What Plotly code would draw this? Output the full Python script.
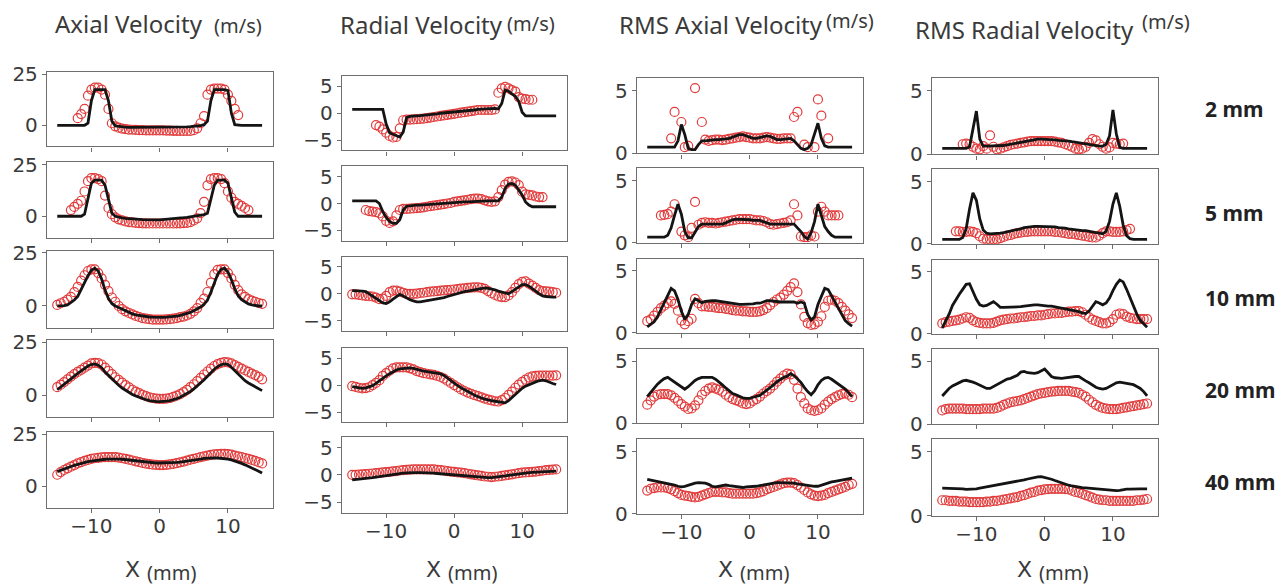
import plotly.graph_objects as go

# ---------------- data ----------------
X_MM = [-15, -14.5, -14, -13.5, -13, -12.5, -12, -11.5, -11, -10.5,
        -10, -9.5, -9, -8.5, -8, -7.5, -7, -6.5, -6, -5.5,
        -5, -4.5, -4, -3.5, -3, -2.5, -2, -1.5, -1, -0.5,
        0, 0.5, 1, 1.5, 2, 2.5, 3, 3.5, 4, 4.5,
        5, 5.5, 6, 6.5, 7, 7.5, 8, 8.5, 9, 9.5,
        10, 10.5, 11, 11.5, 12, 12.5, 13, 13.5, 14, 14.5, 15]

COLUMN_TITLES = ["Axial Velocity", "Radial Velocity", "RMS Axial Velocity", "RMS Radial Velocity"]
UNIT_LABEL = "(m/s)"
ROW_LABELS = ["2 mm", "5 mm", "10 mm", "20 mm", "40 mm"]
X_TICKS = [-10, 0, 10]
X_TICK_TEXT = ["\u221210", "0", "10"]
Y_TICKS = [[0, 25], [-5, 0, 5], [0, 5], [0, 5]]
Y_TICK_TEXT = [["0", "25"], ["\u22125", "0", "5"], ["0", "5"], ["0", "5"]]
N = None

# Axial velocity
axial_2mm_sim = [0, 0, 0, 0, 0, 0, 0, 0, 0, 1,
                 12, 17.5, 17.5, 17.5, 17.5, 12, 2, -0.3, -0.6, -0.8,
                 -0.9, -1, -1, -1.1, -1.1, -1.1, -1.1, -1.1, -1.1, -1.1,
                 -1.1, -1.1, -1.1, -1.1, -1, -1, -1, -0.9, -0.8, -0.7,
                 -0.6, -0.4, -0.2, 0.3, 2, 12, 17.5, 17.5, 17.5, 17.5,
                 17, 6, 0.3, 0, 0, 0, 0, 0, 0, 0, 0]
axial_2mm_exp = [N, N, N, N, N, N, 3.5, 5.5, 8, 14.5,
                 17.5, 18.5, 18.5, 17.5, 15, 8, 1, -0.5, -1.2, -1.6,
                 -1.9, -2.1, -2.2, -2.3, -2.4, -2.4, -2.5, -2.5, -2.5, -2.5,
                 -2.5, -2.5, -2.6, -2.6, -2.7, -2.7, -2.8, -2.8, -2.8, -2.8,
                 -2.4, -1.5, 1, 4.5, 15, 17.5, 18, 18, 18, 17.5,
                 15, 12, 8, 5, N, N, N, N, N, N, N]
axial_5mm_sim = [0, 0, 0, 0, 0, 0, 0, 0, 1, 8,
                 16, 17.5, 17.5, 17.5, 15, 8, 1.5, 0, -0.5, -0.8,
                 -1, -1.2, -1.3, -1.4, -1.5, -1.6, -1.7, -1.7, -1.7, -1.7,
                 -1.7, -1.6, -1.5, -1.4, -1.3, -1.1, -0.9, -0.7, -0.5, -0.3,
                 -0.1, 0.2, 0.5, 0.8, 1.5, 8, 15, 17.5, 17.5, 17.5,
                 16, 9, 2, 0, 0, 0, 0, 0, 0, 0, 0]
axial_5mm_exp = [N, N, N, N, 3, 4.5, 6, 7.5, 12, 17,
                 18.5, 18.5, 18, 17, 10, 4, 1, -0.5, -1.5, -2,
                 -2.5, -2.8, -3, -3.2, -3.3, -3.4, -3.4, -3.5, -3.5, -3.5,
                 -3.5, -3.5, -3.5, -3.5, -3.5, -3.4, -3.4, -3.3, -3.2, -2.8,
                 -2, -1, 1.5, 7, 15, 18, 18.5, 18.5, 18, 16,
                 12, 9, 7, 6, 5, 4, 3, N, N, N, N]
axial_10mm_sim = [0, 0, 0.2, 0.5, 1.5, 2.8, 4.5, 8, 11, 14.3,
                  16.8, 17.8, 16.5, 12.7, 7.5, 3.5, 1.2, 0, -0.7, -1.5,
                  -2.3, -3, -3.7, -4.2, -4.5, -4.8, -5, -5.2, -5.3, -5.4,
                  -5.4, -5.4, -5.3, -5.2, -5, -4.8, -4.4, -4, -3.6, -3,
                  -2.2, -1.4, -0.5, 0.8, 2.8, 6.5, 11.2, 15, 17.2, 17.8,
                  16, 12.5, 8.1, 4.8, 3, 1.8, 1, 0.5, 0.2, 0, 0]
axial_10mm_exp = [0.5, 1.3, 2, 3, 4.3, 6.5, 9, 12, 14.5, 16.5,
                  17.3, 17.3, 15.5, 13, 10, 7, 4, 2, 0, -1.5,
                  -2.5, -3.3, -4, -4.7, -5.2, -5.7, -6, -6.2, -6.4, -6.4,
                  -6.4, -6.4, -6.3, -6.2, -6, -5.7, -5.3, -5, -4.5, -3.7,
                  -2.5, -1, 1.5, 3.5, 6.6, 11, 15, 17, 17.3, 17.3,
                  15.5, 13, 10, 7.5, 5.5, 4.3, 3.2, 2.5, 2, 1.4, 1]
axial_20mm_sim = [2.6, 3.8, 5, 6.3, 7.7, 9, 10.3, 11.6, 12.8, 13.8,
                  14.5, 14.8, 14.2, 13, 11, 9.3, 7.8, 6.2, 4.7, 3.4,
                  2.3, 1.3, 0.4, -0.3, -1, -1.6, -2.1, -2.5, -2.8, -3,
                  -3, -3, -2.8, -2.5, -2.1, -1.6, -0.9, -0.1, 0.8, 1.8,
                  3, 4.3, 5.8, 7.3, 9, 10.8, 12.3, 13.5, 14.4, 14.8,
                  14.5, 13.2, 11.5, 9.8, 8.2, 6.9, 5.8, 4.8, 3.9, 3, 2.2]
axial_20mm_exp = [3.8, 5, 6.2, 7.5, 8.8, 10, 11, 12, 13, 14,
                  15, 15.3, 15.2, 14.5, 13, 11.5, 10, 8.5, 7.3, 6,
                  4.8, 3.7, 2.6, 1.7, 1, 0.2, -0.4, -1, -1.3, -1.6,
                  -1.7, -1.7, -1.6, -1.3, -0.8, -0.2, 0.5, 1.5, 2.5, 3.8,
                  5.2, 6.7, 8.2, 9.8, 11.2, 12.6, 13.8, 14.7, 15.3, 15.6,
                  15.5, 15, 14.2, 13.4, 12.6, 11.8, 11, 10.2, 9.5, 8.7, 7.5]
axial_40mm_sim = [7, 7.7, 8.3, 8.9, 9.5, 10, 10.5, 11, 11.4, 11.8,
                  12.1, 12.4, 12.6, 12.8, 13, 13.1, 13.2, 13.2, 13.1, 13,
                  12.8, 12.6, 12.4, 12.2, 12, 11.8, 11.6, 11.4, 11.3, 11.2,
                  11.2, 11.2, 11.2, 11.3, 11.4, 11.5, 11.6, 11.8, 12, 12.2,
                  12.5, 12.8, 13.1, 13.4, 13.6, 13.7, 13.7, 13.6, 13.5, 13.3,
                  13.1, 12.7, 12.2, 11.6, 11, 10.3, 9.6, 8.8, 8, 7.2, 6.3]
axial_40mm_exp = [5.5, 6.8, 7.8, 8.6, 9.4, 10.2, 11, 11.6, 12.2, 12.7,
                  13.2, 13.5, 13.7, 13.9, 14, 14, 14, 14, 13.8, 13.5,
                  13.2, 12.8, 12.4, 12, 11.6, 11.2, 10.9, 10.6, 10.4, 10.3,
                  10.2, 10.2, 10.3, 10.5, 10.8, 11.1, 11.5, 11.9, 12.3, 12.8,
                  13.2, 13.6, 14, 14.4, 14.8, 15.1, 15.4, 15.5, 15.6, 15.6,
                  15.5, 15.2, 14.8, 14.4, 14, 13.6, 13.2, 12.7, 12.2, 11.6, 11]

# Radial velocity
radial_2mm_sim = [0.7, 0.7, 0.7, 0.7, 0.7, 0.7, 0.7, 0.7, 0.7, 0.7,
                  -2, -3.6, -3.9, -4.1, -4.4, -3.5, -0.8, -0.6, -0.5, -0.5,
                  -0.45, -0.4, -0.35, -0.3, -0.2, -0.1, 0, 0.05, 0.1, 0.2,
                  0.25, 0.3, 0.35, 0.4, 0.5, 0.55, 0.6, 0.7, 0.75, 0.8,
                  0.85, 0.9, 0.9, 0.8, 1.8, 4.3, 4.1, 3.6, 3.1, 2.2,
                  0.2, -0.5, -0.5, -0.5, -0.5, -0.5, -0.5, -0.5, -0.5, -0.5, -0.5]
radial_2mm_exp = [N, N, N, N, N, N, N, -2.2, -2.5, -3,
                  -3.6, -4.2, -4.5, -4.4, -2.8, -1.3, -1.2, -1.2, -1.15, -1.1,
                  -1.05, -1, -0.9, -0.8, -0.7, -0.6, -0.5, -0.4, -0.3, -0.2,
                  -0.1, 0, 0.1, 0.2, 0.3, 0.4, 0.5, 0.6, 0.6, 0.6,
                  0.6, 0.6, 0.7, 3.8, 4.6, 4.9, 4.6, 4.3, 4, 3,
                  2.7, 2.6, 2.5, 2.5, N, N, N, N, N, N, N]
radial_5mm_sim = [0.5, 0.5, 0.5, 0.5, 0.5, 0.5, 0.5, 0.5, 0, -1.5,
                  -2.6, -3.3, -3.7, -3.7, -3, -1.2, -0.5, -0.4, -0.35, -0.3,
                  -0.3, -0.25, -0.2, -0.15, -0.1, 0, 0, 0.05, 0.1, 0.15,
                  0.2, 0.2, 0.25, 0.3, 0.3, 0.35, 0.4, 0.4, 0.45, 0.5,
                  0.5, 0.5, 0.5, 0.5, 1.2, 2.8, 3.6, 3.7, 3.4, 2.6,
                  1.6, 0.3, -0.3, -0.6, -0.6, -0.6, -0.6, -0.6, -0.6, -0.6, -0.6]
radial_5mm_exp = [N, N, N, N, -1.2, -1.4, -1.5, -1.6, -1.8, -2.4,
                  -3.2, -3.6, -3.3, -2.2, -1.2, -1, -1, -0.95, -0.9, -0.85,
                  -0.8, -0.7, -0.6, -0.5, -0.4, -0.3, -0.2, -0.1, 0, 0.1,
                  0.3, 0.4, 0.5, 0.6, 0.7, 0.8, 0.9, 0.9, 0.8, 0.6,
                  0.4, 0.3, 0.4, 1.2, 2.5, 3.5, 4, 4.1, 3.9, 3.4,
                  2.2, 1.7, 1.6, 1.5, 1.3, 1.2, 1.2, N, N, N, N]
radial_10mm_sim = [0.6, 0.6, 0.6, 0.5, 0.4, 0, -0.4, -0.8, -1.3, -1.7,
                   -1.8, -1.5, -1, -0.5, -0.1, -0.4, -0.8, -1.1, -1.3, -1.5,
                   -1.5, -1.4, -1.3, -1.2, -1.1, -1, -0.85, -0.7, -0.5, -0.3,
                   -0.1, 0.1, 0.25, 0.4, 0.5, 0.6, 0.75, 0.9, 1, 1.1,
                   1, 0.9, 0.75, 0.5, 0.3, 0.1, 0, 0.4, 0.9, 1.3,
                   1.7, 1.7, 1.4, 1, 0.5, 0, -0.4, -0.5, -0.6, -0.6, -0.6]
radial_10mm_exp = [-0.1, -0.1, -0.2, -0.3, -0.4, -0.45, -0.5, -0.7, -1, -0.9,
                   -0.4, 0.3, 0.6, 0.6, 0.4, 0.2, 0, 0, 0, 0.05,
                   0.15, 0.2, 0.3, 0.4, 0.45, 0.5, 0.6, 0.65, 0.7, 0.75,
                   0.8, 0.85, 0.95, 1, 1.1, 1.15, 1.2, 1.2, 1.1, 0.9,
                   0.5, 0.1, -0.2, -0.5, -0.6, -0.6, -0.3, 0.3, 1.1, 1.8,
                   2.2, 2.3, 1.9, 1.5, 1.1, 0.7, 0.5, 0.45, 0.4, 0.3, 0.2]
radial_20mm_sim = [-0.3, -0.4, -0.6, -0.6, -0.5, -0.3, -0.1, 0.3, 0.8, 1.2,
                   1.7, 2.1, 2.5, 2.8, 3, 3.1, 3.2, 3.2, 3.1, 2.9,
                   2.7, 2.6, 2.5, 2.4, 2.3, 2.2, 2.1, 1.8, 1.3, 0.8,
                   0.3, -0.1, -0.5, -0.8, -1.2, -1.5, -1.9, -2.2, -2.4, -2.6,
                   -2.8, -2.9, -3, -3.1, -3.2, -3.3, -2.9, -2.3, -1.8, -1.2,
                   -0.6, -0.2, 0.1, 0.4, 0.6, 0.8, 0.9, 0.8, 0.5, 0.3, 0.1]
radial_20mm_exp = [-0.2, -0.35, -0.5, -0.6, -0.55, -0.4, 0, 0.4, 0.9, 1.7,
                   2.2, 2.7, 3.1, 3.3, 3.3, 3.3, 3.3, 3.1, 2.9, 2.6,
                   2.4, 2.2, 2.1, 2, 1.9, 1.7, 1.5, 1.2, 0.8, 0.4,
                   0, -0.4, -0.8, -1.1, -1.4, -1.65, -1.85, -2.05, -2.3, -2.5,
                   -2.7, -2.85, -3, -3.05, -2.8, -2.4, -1.8, -1.2, -0.5, 0.1,
                   0.6, 1, 1.4, 1.6, 1.7, 1.75, 1.75, 1.75, 1.75, 1.75, 1.8]
radial_40mm_sim = [-0.9, -0.85, -0.8, -0.75, -0.7, -0.6, -0.5, -0.4, -0.3, -0.2,
                   -0.1, 0, 0.1, 0.2, 0.25, 0.3, 0.35, 0.4, 0.4, 0.4,
                   0.4, 0.4, 0.4, 0.35, 0.3, 0.25, 0.2, 0.15, 0.1, 0,
                   -0.05, -0.1, -0.15, -0.2, -0.3, -0.35, -0.4, -0.45, -0.5, -0.5,
                   -0.5, -0.5, -0.45, -0.4, -0.3, -0.2, -0.1, 0, 0.1, 0.2,
                   0.3, 0.35, 0.4, 0.45, 0.5, 0.55, 0.6, 0.6, 0.65, 0.7, 0.7]
radial_40mm_exp = [0, 0, 0.05, 0.1, 0.15, 0.2, 0.25, 0.3, 0.35, 0.45,
                   0.5, 0.55, 0.65, 0.7, 0.8, 0.85, 0.9, 0.95, 1, 1,
                   1, 1, 1, 1, 1, 0.9, 0.85, 0.8, 0.7, 0.6,
                   0.55, 0.45, 0.4, 0.3, 0.2, 0.1, 0, -0.1, -0.2, -0.3,
                   -0.35, -0.4, -0.35, -0.3, -0.2, -0.1, 0, 0.1, 0.2, 0.3,
                   0.4, 0.45, 0.5, 0.55, 0.6, 0.7, 0.75, 0.85, 0.9, 0.95, 1]

# RMS axial velocity
rms_axial_2mm_sim = [0.5, 0.5, 0.5, 0.5, 0.5, 0.5, 0.5, 0.5, 0.5, 1,
                     2.3, 1.5, 0.4, 0.3, 0.3, 0.7, 1, 1, 1.05, 1.1,
                     1.1, 1.1, 1.1, 1.15, 1.2, 1.3, 1.4, 1.5, 1.5, 1.4,
                     1.3, 1.2, 1.2, 1.25, 1.3, 1.4, 1.35, 1.2, 1.1, 1.1,
                     1.15, 1.2, 1.2, 1, 0.7, 0.4, 0.3, 0.4, 0.7, 1.5,
                     2.4, 1.2, 0.6, 0.5, 0.5, 0.5, 0.5, 0.5, 0.5, 0.5, 0.5]
rms_axial_2mm_exp = [N, N, N, N, N, N, N, 1.2, 3.3, N,
                     2.5, 0.5, 0.6, N, 5.2, N, 2.5, 1.1, 1.0, 1.05,
                     1.1, 1.1, 1.05, 1.1, 1.15, 1.2, 1.25, 1.3, 1.35, 1.3,
                     1.25, 1.2, 1.2, 1.2, 1.25, 1.3, 1.25, 1.2, 1.15, 1.15,
                     1.2, 1.2, 1.2, 2.9, 3.3, N, 0.7, 0.5, N, 0.5,
                     4.3, 3, N, 1.2, N, N, N, N, N, N, N]
rms_axial_5mm_sim = [0.45, 0.45, 0.45, 0.45, 0.45, 0.45, 0.6, 1.2, 2.2, 3.1,
                     2.3, 0.9, 0.4, 0.4, 0.85, 1.3, 1.5, 1.5, 1.5, 1.5,
                     1.5, 1.45, 1.5, 1.6, 1.75, 1.85, 1.9, 1.9, 1.9, 1.9,
                     1.85, 1.8, 1.8, 1.8, 1.7, 1.6, 1.5, 1.5, 1.5, 1.5,
                     1.5, 1.5, 1.5, 1.5, 1.2, 0.9, 0.5, 0.3, 0.8, 1.7,
                     3.1, 2.2, 1.3, 0.9, 0.6, 0.45, 0.45, 0.45, 0.45, 0.45, 0.45]
rms_axial_5mm_exp = [N, N, N, N, 2.2, 2.25, 2.3, 2.5, 3.1, N,
                     0.9, 0.6, 0.45, 1.2, 3.3, 1.45, 1.6, 1.65, 1.6, 1.6,
                     1.55, 1.6, 1.65, 1.7, 1.75, 1.8, 1.85, 1.9, 1.9, 1.9,
                     1.9, 1.85, 1.8, 1.8, 1.75, 1.65, 1.5, 1.45, 1.5, 1.55,
                     1.6, 1.65, 1.8, 3.1, 2.2, 0.5, 0.45, 0.45, 0.6, 0.5,
                     2.5, 2.9, 2.5, 2.2, 2.2, 2.2, 2.2, N, N, N, N]
rms_axial_10mm_sim = [0.5, 0.7, 0.9, 1.3, 1.9, 2.5, 3.1, 3.6, 3.4, 2.7,
                      1.75, 1.1, 1.5, 2.3, 2.75, 2.6, 2.45, 2.55, 2.6, 2.6,
                      2.6, 2.55, 2.5, 2.45, 2.4, 2.35, 2.3, 2.3, 2.3, 2.3,
                      2.3, 2.35, 2.4, 2.4, 2.5, 2.6, 2.6, 2.55, 2.5, 2.5,
                      2.5, 2.5, 2.55, 2.5, 2.4, 2.5, 2.4, 1.5, 1.05, 1.3,
                      2.3, 3, 3.6, 3.5, 3, 2.4, 1.9, 1.4, 1, 0.75, 0.55]
rms_axial_10mm_exp = [0.95, 1.1, 1.4, 1.7, 2, 2.2, 2.4, 2.55, 2.35, 1.8,
                      1, 0.7, 0.95, 1.15, 2.75, 2.4, 2.15, 2.15, 2.1, 2.1,
                      2.05, 2, 2, 1.95, 1.9, 1.85, 1.8, 1.8, 1.75, 1.75,
                      1.7, 1.7, 1.7, 1.75, 1.85, 2, 2.25, 2.5, 2.7, 2.85,
                      3.1, 3.4, 3.7, 4, 3.3, 2.3, 1.3, 0.8, 0.65, 0.7,
                      0.9, 1.35, 2.1, 2.6, 2.7, 2.6, 2.4, 2.1, 1.8, 1.5, 1.2]
rms_axial_20mm_sim = [2.15, 2.5, 2.85, 3.15, 3.4, 3.6, 3.7, 3.5, 3.3, 3.1,
                      2.9, 2.75, 2.95, 3.2, 3.45, 3.6, 3.7, 3.7, 3.7, 3.7,
                      3.55, 3.35, 3.1, 2.85, 2.6, 2.4, 2.3, 2.15, 2.05, 2,
                      2, 2.1, 2.15, 2.25, 2.45, 2.65, 2.85, 3.1, 3.35, 3.55,
                      3.7, 3.8, 4, 3.85, 3.6, 3.3, 2.9, 2.55, 2.3, 2.6,
                      3.1, 3.45, 3.65, 3.7, 3.55, 3.35, 3.15, 2.95, 2.75, 2.45, 2.15]
rms_axial_20mm_exp = [1.5, 1.85, 2.15, 2.3, 2.35, 2.35, 2.35, 2.25, 2.05, 1.8,
                      1.55, 1.35, 1.15, 1.2, 1.45, 1.85, 2.3, 2.6, 2.8, 2.9,
                      2.8, 2.7, 2.55, 2.3, 2.1, 1.95, 1.85, 1.75, 1.6, 1.55,
                      1.6, 1.8, 1.95, 2.15, 2.4, 2.6, 2.8, 3.05, 3.35, 3.6,
                      3.85, 4, 3.95, 3.5, 2.8, 2.1, 1.6, 1.2, 1.05, 1,
                      1.05, 1.2, 1.5, 1.75, 1.95, 2.1, 2.25, 2.35, 2.4, 2.3, 2.1]
rms_axial_40mm_sim = [2.75, 2.7, 2.65, 2.6, 2.55, 2.5, 2.45, 2.35, 2.3, 2.2,
                      2.15, 2.2, 2.3, 2.35, 2.45, 2.5, 2.5, 2.45, 2.35, 2.2,
                      2.15, 2.2, 2.3, 2.3, 2.25, 2.2, 2.15, 2.1, 2.1, 2.15,
                      2.15, 2.15, 2.2, 2.25, 2.3, 2.4, 2.45, 2.45, 2.5, 2.5,
                      2.5, 2.5, 2.5, 2.45, 2.4, 2.35, 2.3, 2.25, 2.2, 2.2,
                      2.2, 2.3, 2.4, 2.5, 2.55, 2.6, 2.65, 2.7, 2.75, 2.8, 2.85]
rms_axial_40mm_exp = [1.85, 2, 2.05, 2.1, 2.1, 2.1, 2.05, 1.95, 1.8, 1.65,
                      1.5, 1.45, 1.4, 1.35, 1.3, 1.35, 1.45, 1.55, 1.65, 1.75,
                      1.75, 1.75, 1.7, 1.7, 1.65, 1.6, 1.6, 1.6, 1.6, 1.6,
                      1.6, 1.6, 1.65, 1.7, 1.8, 1.95, 2.05, 2.15, 2.25, 2.35,
                      2.45, 2.5, 2.5, 2.45, 2.3, 2.1, 1.9, 1.7, 1.55, 1.45,
                      1.4, 1.45, 1.5, 1.65, 1.75, 1.85, 1.95, 2.05, 2.15, 2.3, 2.4]

# RMS radial velocity
rms_radial_2mm_sim = [0.47, 0.47, 0.47, 0.47, 0.47, 0.47, 0.47, 0.47, 0.6, 2,
                      3.4, 1.2, 0.65, 0.65, 0.65, 0.65, 0.65, 0.65, 0.7, 0.75,
                      0.8, 0.85, 0.95, 1, 1.05, 1.1, 1.15, 1.2, 1.2, 1.2,
                      1.2, 1.2, 1.15, 1.15, 1.1, 1.1, 1.05, 1.05, 1, 0.95,
                      0.9, 0.85, 0.8, 0.75, 0.7, 0.65, 0.65, 0.65, 0.8, 1.45,
                      3.5, 1.6, 0.55, 0.47, 0.47, 0.47, 0.47, 0.47, 0.47, 0.47, 0.47]
rms_radial_2mm_exp = [N, N, N, N, N, N, 0.8, 0.85, 0.8, 0.6,
                      0.45, 0.4, 0.65, 0.45, 1.5, 0.6, 0.4, 0.45, 0.55, 0.65,
                      0.75, 0.8, 0.85, 0.9, 0.95, 1, 1.05, 1.05, 1.05, 1.05,
                      1.05, 1.05, 1.05, 1, 0.95, 0.9, 0.8, 0.7, 0.6, 0.45,
                      0.4, 0.45, 0.6, 0.9, 1.2, 1.1, 0.8, 0.6, 0.45, 0.55,
                      0.9, 0.85, 0.8, 0.85, N, N, N, N, N, N, N]
rms_radial_5mm_sim = [0.35, 0.35, 0.35, 0.35, 0.35, 0.35, 0.5, 1.2, 2.8, 4.1,
                      3.5, 2, 1.1, 0.85, 0.8, 0.8, 0.8, 0.85, 0.9, 0.95,
                      1, 1.1, 1.15, 1.2, 1.3, 1.35, 1.35, 1.4, 1.4, 1.4,
                      1.4, 1.4, 1.4, 1.35, 1.3, 1.3, 1.25, 1.2, 1.15, 1.1,
                      1.1, 1.05, 1.05, 1, 1, 0.9, 0.85, 0.8, 1, 1.8,
                      3.2, 4.1, 3, 1.5, 0.65, 0.4, 0.35, 0.35, 0.35, 0.35, 0.35]
rms_radial_5mm_exp = [N, N, N, N, 1, 1, 0.95, 0.95, 1, 0.95,
                      0.85, 0.6, 0.4, 0.35, 0.35, 0.35, 0.35, 0.45, 0.55, 0.65,
                      0.7, 0.8, 0.85, 0.9, 0.95, 0.95, 1, 1, 1, 1,
                      1, 1, 1, 0.95, 0.95, 0.9, 0.85, 0.8, 0.8, 0.75,
                      0.7, 0.65, 0.6, 0.55, 0.5, 0.5, 0.65, 0.85, 1, 1,
                      0.95, 0.95, 0.95, 1, 1.1, 1.2, N, N, N, N, N]
rms_radial_10mm_sim = [0.5, 1, 1.6, 2.3, 2.8, 3.2, 3.6, 4, 4.05, 3.4,
                       2.8, 2.35, 2.25, 2.3, 2.45, 2.6, 2.4, 2.15, 2.15, 2.15,
                       2.15, 2.15, 2.2, 2.2, 2.25, 2.3, 2.35, 2.35, 2.35, 2.3,
                       2.3, 2.25, 2.25, 2.2, 2.1, 2.05, 2, 1.95, 1.9, 1.85,
                       1.8, 1.7, 1.65, 1.85, 2.2, 2.6, 2.5, 2.35, 2.5, 2.9,
                       3.5, 4, 4.35, 4.2, 3.6, 2.9, 2.2, 1.6, 1.1, 0.8, 0.55]
rms_radial_10mm_exp = [0.85, 0.95, 1, 1.05, 1.1, 1.15, 1.25, 1.35, 1.3, 1.1,
                       0.95, 0.9, 0.85, 0.85, 0.85, 0.9, 1, 1.1, 1.15, 1.2,
                       1.25, 1.25, 1.3, 1.35, 1.35, 1.4, 1.45, 1.45, 1.5, 1.5,
                       1.55, 1.6, 1.65, 1.65, 1.7, 1.7, 1.75, 1.8, 1.8, 1.85,
                       1.85, 1.75, 1.55, 1.35, 1.15, 1.05, 0.95, 0.85, 0.85, 0.95,
                       1.2, 1.55, 1.65, 1.6, 1.4, 1.3, 1.25, 1.2, 1.2, 1.2, 1.2]
rms_radial_20mm_sim = [2.25, 2.55, 2.85, 3.05, 3.2, 3.35, 3.45, 3.5, 3.45, 3.35,
                       3.25, 3.1, 2.95, 2.85, 2.85, 3, 3.15, 3.3, 3.45, 3.6,
                       3.65, 3.75, 3.9, 4.15, 4.2, 4.1, 4.05, 4.05, 4.1, 4.25,
                       4.4, 4.1, 3.8, 3.7, 3.65, 3.65, 3.7, 3.75, 3.75, 3.8,
                       3.8, 3.6, 3.45, 3.3, 3.1, 2.95, 2.85, 2.8, 2.85, 3,
                       3.2, 3.3, 3.35, 3.3, 3.3, 3.25, 3.15, 3, 2.85, 2.6, 2.25]
rms_radial_20mm_exp = [1.1, 1.2, 1.25, 1.25, 1.25, 1.25, 1.25, 1.2, 1.2, 1.2,
                       1.2, 1.2, 1.25, 1.25, 1.25, 1.25, 1.3, 1.4, 1.55, 1.65,
                       1.75, 1.8, 1.85, 1.9, 2, 2.1, 2.2, 2.3, 2.4, 2.45,
                       2.5, 2.55, 2.6, 2.62, 2.65, 2.65, 2.65, 2.65, 2.6, 2.55,
                       2.5, 2.35, 2.2, 1.95, 1.75, 1.55, 1.4, 1.3, 1.25, 1.2,
                       1.2, 1.2, 1.25, 1.3, 1.35, 1.4, 1.45, 1.5, 1.55, 1.6, 1.65]
rms_radial_40mm_sim = [2.15, 2.15, 2.15, 2.15, 2.15, 2.1, 2.1, 2.05, 2.05, 2.05,
                       2.1, 2.15, 2.2, 2.25, 2.25, 2.3, 2.35, 2.4, 2.45, 2.5,
                       2.55, 2.6, 2.65, 2.72, 2.8, 2.87, 2.93, 3, 3.03, 3.05,
                       3, 2.93, 2.85, 2.75, 2.65, 2.55, 2.45, 2.38, 2.32, 2.27,
                       2.25, 2.2, 2.18, 2.15, 2.13, 2.1, 2.08, 2.05, 2.03, 2,
                       1.98, 1.95, 1.97, 2.03, 2.07, 2.08, 2.1, 2.1, 2.1, 2.1, 2.1]
rms_radial_40mm_exp = [1.2, 1.2, 1.15, 1.15, 1.15, 1.1, 1.1, 1.1, 1.05, 1.05,
                       1.05, 1.05, 1.05, 1.1, 1.1, 1.15, 1.15, 1.2, 1.25, 1.3,
                       1.35, 1.4, 1.45, 1.55, 1.6, 1.7, 1.8, 1.85, 1.95, 2,
                       2.05, 2.08, 2.1, 2.1, 2.1, 2.1, 2.08, 2.05, 1.95, 1.85,
                       1.8, 1.7, 1.6, 1.5, 1.4, 1.3, 1.25, 1.2, 1.2, 1.15,
                       1.15, 1.15, 1.15, 1.15, 1.15, 1.15, 1.15, 1.2, 1.2, 1.25, 1.3]

SIM = [
    [axial_2mm_sim, axial_5mm_sim, axial_10mm_sim, axial_20mm_sim, axial_40mm_sim],
    [radial_2mm_sim, radial_5mm_sim, radial_10mm_sim, radial_20mm_sim, radial_40mm_sim],
    [rms_axial_2mm_sim, rms_axial_5mm_sim, rms_axial_10mm_sim, rms_axial_20mm_sim, rms_axial_40mm_sim],
    [rms_radial_2mm_sim, rms_radial_5mm_sim, rms_radial_10mm_sim, rms_radial_20mm_sim, rms_radial_40mm_sim],
]
EXP = [
    [axial_2mm_exp, axial_5mm_exp, axial_10mm_exp, axial_20mm_exp, axial_40mm_exp],
    [radial_2mm_exp, radial_5mm_exp, radial_10mm_exp, radial_20mm_exp, radial_40mm_exp],
    [rms_axial_2mm_exp, rms_axial_5mm_exp, rms_axial_10mm_exp, rms_axial_20mm_exp, rms_axial_40mm_exp],
    [rms_radial_2mm_exp, rms_radial_5mm_exp, rms_radial_10mm_exp, rms_radial_20mm_exp, rms_radial_40mm_exp],
]

for c in range(4):
    for r in range(5):
        for arr, kind in ((SIM[c][r], "sim"), (EXP[c][r], "exp")):
            if len(arr) != len(X_MM):
                raise ValueError(f"col {c} row {r} {kind}: {len(arr)} values")

# ---------------- layout geometry (target screen pixels) ----------------
W, H = 1283, 584
# calibration of the page offset observed in the rendered screenshot
OFF_X, OFF_Y, SCALE_Y = 10.0, 14.5, 0.97

COL_X = [(49, 275), (344, 569), (639, 865), (934, 1160)]
ROW_Y = [
    [(69, 144), (160, 236), (249, 327), (339, 417), (432, 508)],
    [(73, 148), (164, 239), (255, 330), (347, 422), (437, 513)],
    [(75, 151), (166, 241), (257, 332), (348, 423), (439, 514)],
    [(75, 152), (167, 242), (258, 333), (348, 424), (439, 516)],
]
Y_RANGES = [[-10.4, 26.1], [-6.9, 6.9], [0, 6], [0, 6]]
X_RANGE = [-16.5, 16.6]


def fx(t):
    return (t - OFF_X) / W


def fy(t):
    return 1 - ((t - OFF_Y) / SCALE_Y) / H


FRAME = "#6e6e6e"
TXT = "#3a3a3a"
TICKFONT = dict(family="DejaVu Sans", size=20, color=TXT)
RED = "#e23b3b"

fig = go.Figure()
layout = dict(
    width=W, height=H,
    margin=dict(l=0, r=0, t=0, b=0),
    paper_bgcolor="white", plot_bgcolor="white",
    showlegend=False,
)

for c in range(4):
    for r in range(5):
        k = c * 5 + r + 1
        xa = "x" if k == 1 else f"x{k}"
        ya = "y" if k == 1 else f"y{k}"
        fig.add_trace(go.Scatter(
            x=X_MM, y=EXP[c][r], xaxis=xa, yaxis=ya, mode="markers",
            marker=dict(symbol="circle-open", size=9, color=RED, line=dict(width=1.2)),
            hoverinfo="skip"))
        fig.add_trace(go.Scatter(
            x=X_MM, y=SIM[c][r], xaxis=xa, yaxis=ya, mode="lines",
            line=dict(color="#141414", width=2.8), hoverinfo="skip"))
        x0, x1 = COL_X[c]
        y0, y1 = ROW_Y[c][r]
        axis_common = dict(showline=True, mirror=True, linecolor=FRAME, linewidth=1.3,
                           ticks="outside", ticklen=4, tickwidth=1, tickcolor=FRAME,
                           showgrid=False, zeroline=False, tickfont=TICKFONT, fixedrange=True)
        layout["xaxis" if k == 1 else f"xaxis{k}"] = dict(
            domain=[fx(x0), fx(x1)], anchor=ya, range=X_RANGE,
            tickmode="array", tickvals=X_TICKS, ticktext=X_TICK_TEXT,
            showticklabels=(r == 4), ticklabelstandoff=-4, **axis_common)
        layout["yaxis" if k == 1 else f"yaxis{k}"] = dict(
            domain=[fy(y1), fy(y0)], anchor=xa, range=Y_RANGES[c],
            tickmode="array", tickvals=Y_TICKS[c], ticktext=Y_TICK_TEXT[c],
            **axis_common)

fig.update_layout(**layout)

TITLE_FONT = dict(family="Noto Sans", size=24, color=TXT)
UNIT_FONT = dict(family="Noto Sans", size=20, color=TXT)
title_pos = [(55, 20, 214, 22), (340, 21, 507, 20), (619, 21, 826, 17), (915, 26, 1142, 18)]
for c in range(4):
    tx, ty, ux, uy = title_pos[c]
    fig.add_annotation(x=fx(tx), y=fy(ty), xref="paper", yref="paper", text=COLUMN_TITLES[c],
                       showarrow=False, xanchor="left", yanchor="middle", font=TITLE_FONT)
    fig.add_annotation(x=fx(ux), y=fy(uy), xref="paper", yref="paper", text=UNIT_LABEL,
                       showarrow=False, xanchor="left", yanchor="middle", font=UNIT_FONT)

row_label_y = [106, 211, 297, 389, 482]
for r in range(5):
    fig.add_annotation(x=fx(1205), y=fy(row_label_y[r]), xref="paper", yref="paper",
                       text=f"<b>{ROW_LABELS[r]}</b>", showarrow=False, xanchor="left",
                       yanchor="middle", font=dict(family="Noto Sans", size=21, color="#222222"))

xlabel_pos = [125, 426, 718, 1017]
for c in range(4):
    fig.add_annotation(x=fx(xlabel_pos[c]), y=fy(570), xref="paper", yref="paper", text="X",
                       showarrow=False, xanchor="left", yanchor="middle",
                       font=dict(family="DejaVu Sans", size=22, color=TXT))
    fig.add_annotation(x=fx(xlabel_pos[c] + 22), y=fy(573), xref="paper", yref="paper", text="(mm)",
                       showarrow=False, xanchor="left", yanchor="middle",
                       font=dict(family="Noto Sans", size=20, color=TXT))

fig.write_html("out.html")
